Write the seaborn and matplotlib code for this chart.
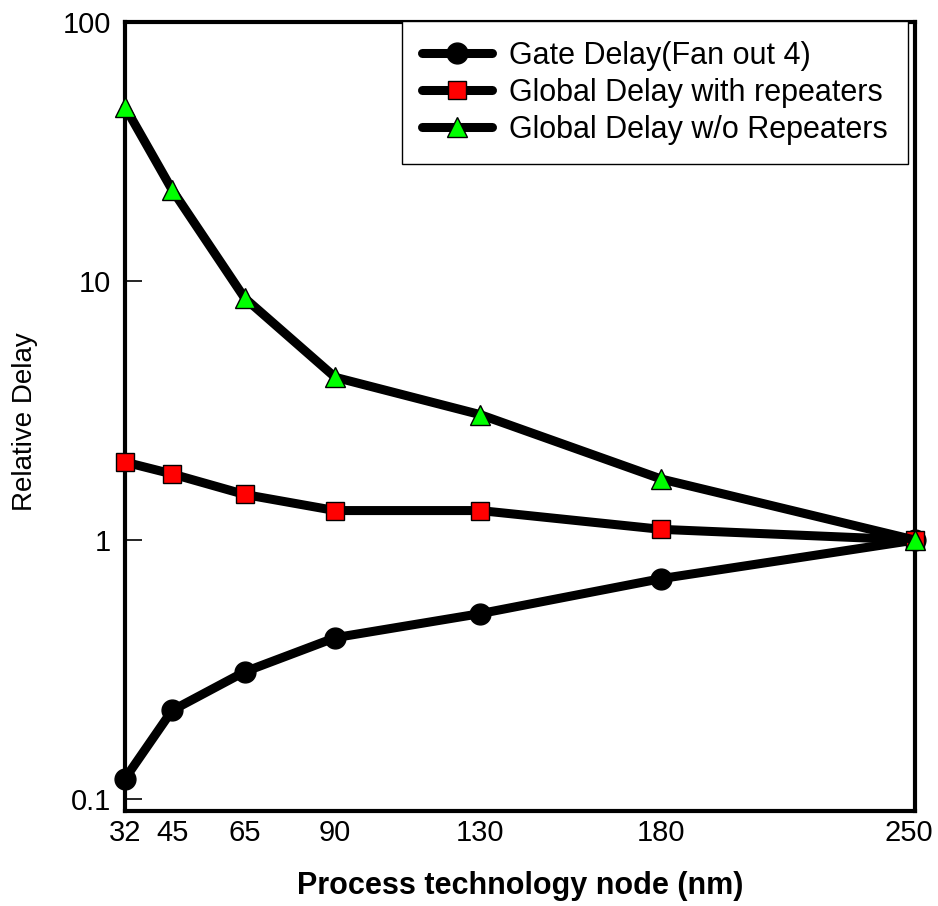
import pandas as pd
import matplotlib
matplotlib.use("Agg")
import matplotlib.pyplot as plt
import matplotlib.transforms as mtransforms
import seaborn as sns

# Data
nodes = [32, 45, 65, 90, 130, 180, 250]
gate_delay = [0.12, 0.22, 0.31, 0.42, 0.52, 0.71, 1.0]
global_rep = [2.0, 1.8, 1.5, 1.3, 1.3, 1.1, 1.0]
global_norep = [47, 22.5, 8.6, 4.25, 3.05, 1.72, 1.0]
labels = ["Gate Delay(Fan out 4)", "Global Delay with repeaters", "Global Delay w/o Repeaters"]

sns.set_style("white")
plt.rcParams['font.family'] = ['Liberation Sans', 'DejaVu Sans']
plt.rcParams['text.color'] = 'black'
plt.rcParams['axes.labelcolor'] = 'black'
plt.rcParams['xtick.color'] = 'black'
plt.rcParams['ytick.color'] = 'black'

fig = plt.figure(figsize=(9.38, 9.06), dpi=100)
ax = fig.add_axes([0.1333, 0.1049, 0.8422, 0.8708])

styles = [
    (gate_delay, "o", "black", 15),
    (global_rep, "s", "red", 13),
    (global_norep, "^", "#00ff00", 15),
]
for (vals, mk, fc, ms), lab in zip(styles, labels):
    df = pd.DataFrame({"node": nodes, "delay": vals})
    sns.lineplot(data=df, x="node", y="delay", ax=ax, color="black", lw=6.5,
                 marker=mk, markerfacecolor=fc, markeredgecolor="black",
                 markeredgewidth=1, markersize=ms, label=lab, clip_on=False,
                 solid_capstyle="round", zorder=3)

ax.set_yscale("log")
ax.set_xlim(32, 250)
ax.set_ylim(0.09, 100)
ax.set_xticks(nodes)
ax.set_xticklabels([str(n) for n in nodes])
ax.set_yticks([0.1, 1, 10, 100])
ax.set_yticklabels(["0.1", "1", "10", "100"])
ax.minorticks_off()
ax.tick_params(axis="y", direction="in", length=12, width=1.2, labelsize=21, pad=10, left=True)
ax.tick_params(axis="x", length=0, labelsize=21, pad=6)
for s in ax.spines.values():
    s.set_color("black")
    s.set_linewidth(3)

# nudge the last x label so it stays inside the figure
last = ax.get_xticklabels()[-1]
last.set_transform(last.get_transform() + mtransforms.ScaledTranslation(-0.06, 0, fig.dpi_scale_trans))

ax.set_xlabel("Process technology node (nm)", fontsize=22, fontweight="bold", labelpad=17)
ax.set_ylabel("Relative Delay", fontsize=20, va="center")
ax.yaxis.set_label_coords(-0.127, 0.493)

leg = ax.legend(loc="upper right", bbox_to_anchor=(0.991, 1.001), borderaxespad=0,
                fontsize=22, frameon=True, fancybox=False, edgecolor="black",
                framealpha=1, handlelength=2.3, borderpad=0.65, labelspacing=0.22,
                handletextpad=0.55)
leg.get_frame().set_linewidth(1)

fig.savefig("out.png", dpi=100)
